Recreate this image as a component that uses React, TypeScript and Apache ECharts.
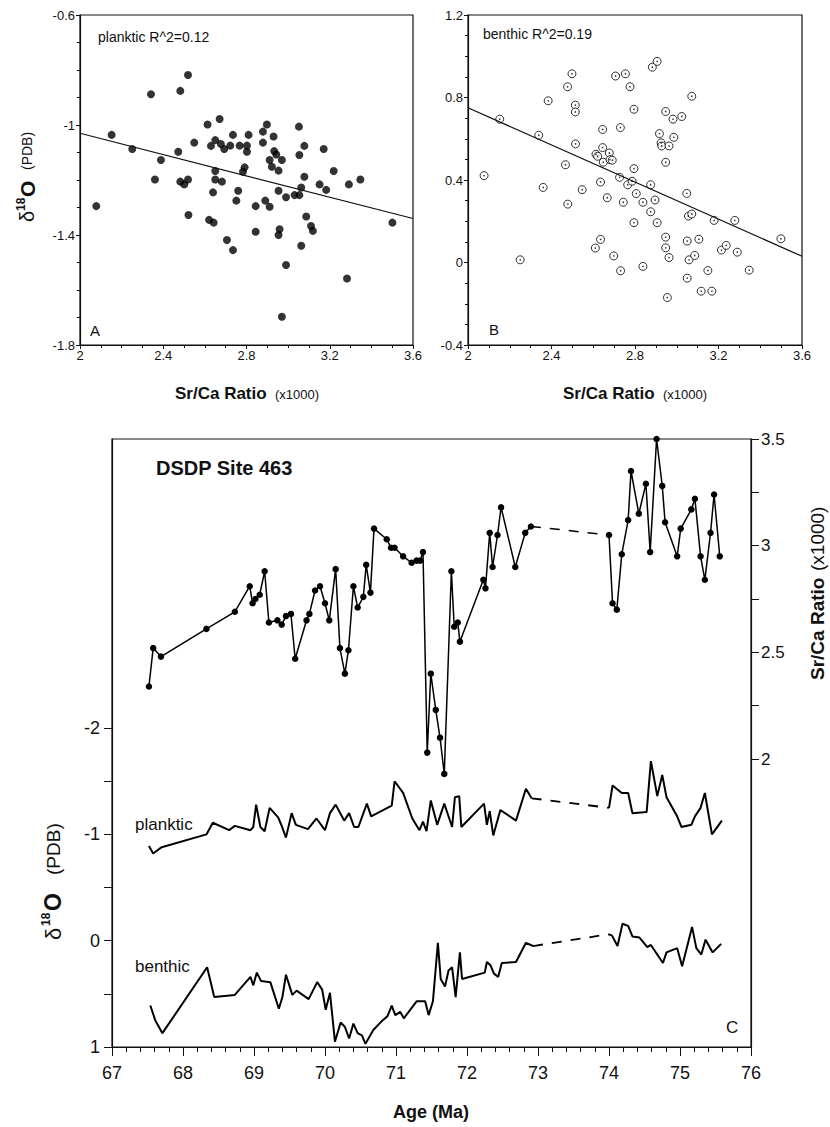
import React, { useEffect, useRef } from "react";
import * as echarts from "echarts";

const FONT = '"Liberation Sans", Arial, Helvetica, sans-serif';
const INK = "#111";

// Panel A: planktic d18O vs Sr/Ca
const planktonicScatter: number[][] = [
  [2.078, -1.295], [2.152, -1.036], [2.251, -1.087], [2.341, -0.888], [2.36, -1.198], [2.389, -1.127],
  [2.472, -1.097], [2.482, -0.876], [2.519, -0.818], [2.482, -1.206], [2.501, -1.216], [2.519, -1.198],
  [2.521, -1.327], [2.549, -1.064], [2.613, -0.998], [2.629, -1.076], [2.671, -0.978], [2.62, -1.345],
  [2.642, -1.355], [2.639, -1.245], [2.65, -1.198], [2.65, -1.167], [2.65, -1.055], [2.677, -1.069],
  [2.682, -1.206], [2.693, -1.087], [2.706, -1.418], [2.735, -1.455], [2.722, -1.075], [2.735, -1.036],
  [2.751, -1.275], [2.76, -1.239], [2.767, -1.075], [2.783, -1.17], [2.791, -1.154], [2.802, -1.075],
  [2.802, -1.097], [2.81, -1.036], [2.844, -1.295], [2.844, -1.388], [2.879, -1.064], [2.879, -1.024],
  [2.898, -0.998], [2.89, -1.275], [2.911, -1.297], [2.911, -1.127], [2.922, -1.152], [2.93, -1.042],
  [2.933, -1.095], [2.943, -1.107], [2.954, -1.166], [2.97, -1.127], [2.954, -1.239], [2.959, -1.379],
  [2.954, -1.4], [2.97, -1.697], [2.99, -1.509], [2.99, -1.263], [3.031, -1.255], [3.054, -1.255],
  [3.052, -1.006], [3.054, -1.109], [3.063, -1.227], [3.078, -1.076], [3.078, -1.188], [3.063, -1.439],
  [3.087, -1.333], [3.11, -1.367], [3.119, -1.385], [3.151, -1.216], [3.171, -1.087], [3.183, -1.236],
  [3.219, -1.167], [3.283, -1.558], [3.292, -1.216], [3.347, -1.198], [3.501, -1.355],
];
const planktonicFit: number[][] = [[2, -1.03], [3.6, -1.34]];

// Panel B: benthic d18O vs Sr/Ca
const benthicScatter: number[][] = [
  [2.077, 0.421], [2.152, 0.695], [2.25, 0.013], [2.339, 0.617], [2.36, 0.364], [2.384, 0.784],
  [2.467, 0.474], [2.477, 0.852], [2.478, 0.283], [2.498, 0.915], [2.514, 0.763], [2.514, 0.73],
  [2.515, 0.575], [2.547, 0.353], [2.61, 0.07], [2.613, 0.525], [2.621, 0.515], [2.635, 0.112],
  [2.635, 0.39], [2.645, 0.557], [2.645, 0.645], [2.648, 0.486], [2.667, 0.314], [2.677, 0.531],
  [2.68, 0.499], [2.691, 0.496], [2.698, 0.032], [2.707, 0.904], [2.726, 0.413], [2.73, 0.654],
  [2.731, -0.04], [2.744, 0.292], [2.754, 0.915], [2.765, 0.377], [2.776, 0.852], [2.786, 0.394],
  [2.795, 0.743], [2.795, 0.455], [2.795, 0.193], [2.806, 0.334], [2.838, -0.019], [2.838, 0.292],
  [2.875, 0.377], [2.875, 0.246], [2.883, 0.947], [2.896, 0.303], [2.906, 0.975], [2.906, 0.193],
  [2.917, 0.625], [2.925, 0.58], [2.928, 0.565], [2.947, 0.732], [2.947, 0.486], [2.947, 0.123],
  [2.947, 0.071], [2.955, -0.17], [2.963, 0.565], [2.963, 0.024], [2.982, 0.695], [2.986, 0.607],
  [3.024, 0.708], [3.048, 0.335], [3.05, 0.104], [3.05, -0.076], [3.056, 0.225], [3.059, 0.013],
  [3.072, 0.235], [3.072, 0.806], [3.086, 0.034], [3.106, 0.113], [3.117, -0.139], [3.149, -0.039],
  [3.168, -0.139], [3.179, 0.204], [3.214, 0.06], [3.237, 0.083], [3.278, 0.204], [3.29, 0.05],
  [3.347, -0.037], [3.499, 0.115],
];
const benthicFit: number[][] = [[2, 0.75], [3.6, 0.03]];

// Panel C: time series, DSDP Site 463
const srCaSeries: number[][] = [
  [67.52, 2.34], [67.58, 2.52], [67.69, 2.48], [68.33, 2.61], [68.73, 2.69], [68.94, 2.81], [68.98, 2.73],
  [69.02, 2.75], [69.08, 2.77], [69.15, 2.88], [69.21, 2.64], [69.33, 2.65], [69.39, 2.63], [69.45, 2.67],
  [69.52, 2.68], [69.58, 2.47], [69.74, 2.65], [69.78, 2.68], [69.86, 2.79], [69.93, 2.81], [70.0, 2.73],
  [70.06, 2.65], [70.15, 2.89], [70.21, 2.52], [70.28, 2.4], [70.33, 2.51], [70.4, 2.81], [70.46, 2.71],
  [70.54, 2.76], [70.58, 2.91], [70.64, 2.78], [70.69, 3.08], [70.87, 3.03], [70.93, 2.99], [70.98, 2.99],
  [71.1, 2.95], [71.22, 2.92], [71.29, 2.93], [71.34, 2.93], [71.38, 2.97], [71.44, 2.03], [71.49, 2.4],
  [71.56, 2.23], [71.62, 2.1], [71.68, 1.93], [71.78, 2.88], [71.82, 2.62], [71.87, 2.64], [71.9, 2.55],
  [72.23, 2.84], [72.26, 2.8], [72.32, 3.06], [72.36, 2.9], [72.43, 3.05], [72.48, 3.18], [72.68, 2.9],
  [72.82, 3.06], [72.9, 3.09],
];
const srCaLate: number[][] = [
  [74.0, 3.05], [74.05, 2.73], [74.11, 2.7], [74.18, 2.96], [74.27, 3.12], [74.31, 3.35], [74.42, 3.15],
  [74.52, 3.29], [74.58, 2.97], [74.67, 3.5], [74.75, 3.28], [74.79, 3.11], [74.96, 2.95], [75.01, 3.08],
  [75.16, 3.17], [75.21, 3.22], [75.29, 2.95], [75.35, 2.84], [75.43, 3.06], [75.48, 3.24], [75.56, 2.95],
];
const srCaGap: number[][] = [[72.9, 3.09], [74.0, 3.05]];

const planktonicSeries: number[][] = [
  [67.52, -0.89], [67.58, -0.82], [67.7, -0.88], [68.33, -1.0], [68.42, -1.11], [68.65, -1.04], [68.73, -1.08],
  [68.95, -1.04], [68.99, -1.07], [69.03, -1.28], [69.09, -1.07], [69.15, -1.03], [69.22, -1.25], [69.34, -1.16],
  [69.39, -1.08], [69.45, -0.97], [69.53, -1.2], [69.59, -1.09], [69.76, -1.05], [69.88, -1.15], [70.0, -1.04],
  [70.07, -1.2], [70.15, -1.28], [70.27, -1.13], [70.34, -1.2], [70.41, -1.07], [70.47, -1.07], [70.59, -1.29],
  [70.65, -1.17], [70.94, -1.27], [70.98, -1.5], [71.1, -1.39], [71.23, -1.15], [71.33, -1.04], [71.38, -1.12],
  [71.43, -1.03], [71.49, -1.32], [71.58, -1.09], [71.68, -1.29], [71.79, -1.07], [71.83, -1.35], [71.89, -1.36],
  [71.92, -1.07], [72.24, -1.29], [72.28, -1.09], [72.32, -1.22], [72.37, -0.99], [72.47, -1.23], [72.69, -1.13],
  [72.83, -1.43], [72.91, -1.34],
];
const planktonicLate: number[][] = [
  [74.0, -1.25], [74.05, -1.46], [74.18, -1.39], [74.27, -1.39], [74.33, -1.2], [74.53, -1.21], [74.59, -1.69],
  [74.68, -1.36], [74.75, -1.56], [74.81, -1.35], [74.96, -1.17], [75.02, -1.07], [75.16, -1.09], [75.21, -1.17],
  [75.29, -1.25], [75.35, -1.39], [75.45, -1.0], [75.59, -1.13],
];
const planktonicGap: number[][] = [[72.91, -1.34], [74.0, -1.25]];

const benthicSeries: number[][] = [
  [67.54, 0.61], [67.61, 0.75], [67.71, 0.87], [68.34, 0.25], [68.44, 0.53], [68.73, 0.51], [68.95, 0.34],
  [68.99, 0.42], [69.04, 0.3], [69.1, 0.38], [69.23, 0.39], [69.35, 0.64], [69.4, 0.53], [69.45, 0.32],
  [69.54, 0.51], [69.6, 0.47], [69.77, 0.55], [69.89, 0.39], [69.96, 0.46], [70.01, 0.65], [70.07, 0.49],
  [70.14, 0.95], [70.22, 0.77], [70.28, 0.81], [70.34, 0.92], [70.4, 0.78], [70.46, 0.87], [70.52, 0.89],
  [70.57, 0.97], [70.68, 0.84], [70.81, 0.75], [70.88, 0.71], [70.94, 0.61], [70.99, 0.7], [71.06, 0.67],
  [71.11, 0.73], [71.29, 0.57], [71.41, 0.57], [71.46, 0.7], [71.52, 0.57], [71.59, 0.02], [71.63, 0.36],
  [71.69, 0.43], [71.74, 0.28], [71.79, 0.25], [71.84, 0.53], [71.9, 0.11], [71.93, 0.36], [72.25, 0.3],
  [72.28, 0.2], [72.33, 0.23], [72.38, 0.31], [72.44, 0.34], [72.49, 0.21], [72.69, 0.2], [72.83, 0.02],
  [72.93, 0.05],
];
const benthicLate: number[][] = [
  [73.99, -0.06], [74.04, -0.05], [74.12, 0.05], [74.19, -0.16], [74.27, -0.14], [74.33, -0.04], [74.43, -0.03],
  [74.54, 0.06], [74.59, 0.04], [74.76, 0.21], [74.81, 0.11], [74.96, 0.07], [75.03, 0.24], [75.17, -0.13],
  [75.23, 0.07], [75.3, 0.13], [75.36, -0.01], [75.46, 0.11], [75.58, 0.03],
];
const benthicGap: number[][] = [[72.93, 0.05], [73.99, -0.06]];

// tick values
const leftTicksC = [-2, -1.5, -1, -0.5, 0, 0.5, 1];
const leftLabelsC = [-2, -1, 0, 1];
const rightTicksC = [2, 2.25, 2.5, 2.75, 3, 3.25, 3.5];
const rightLabelsC = [2, 2.5, 3, 3.5];

const fmt1 = (v: number) => String(+v.toFixed(2));

function smallX(gridIndex: number) {
  return {
    gridIndex, type: "value", min: 2, max: 3.6, interval: 0.4,
    axisLine: { onZero: false, lineStyle: { color: INK, width: 1.2 } },
    axisTick: { length: 4, lineStyle: { color: INK } },
    minorTick: { show: true, splitNumber: 4, length: 3, lineStyle: { color: INK } },
    axisLabel: { fontSize: 13, color: INK, margin: 4, fontFamily: FONT, formatter: fmt1 },
    splitLine: { show: false },
  };
}
function smallY(gridIndex: number, min: number, max: number) {
  return {
    gridIndex, type: "value", min, max, interval: 0.4,
    axisLine: { onZero: false, lineStyle: { color: INK, width: 1.2 } },
    axisTick: { length: 4, lineStyle: { color: INK } },
    minorTick: { show: true, splitNumber: 4, length: 3, lineStyle: { color: INK } },
    axisLabel: { fontSize: 13, color: INK, margin: 5, fontFamily: FONT, formatter: fmt1 },
    splitLine: { show: false },
  };
}

function txt(text: string, x: number, y: number, font: string, align = "left", vAlign = "middle") {
  return {
    type: "text", x, y,
    style: { text, font, fill: INK, align, verticalAlign: vAlign, textAlign: align, textVerticalAlign: vAlign },
  };
}

function deltaTitle(x: number, y: number, s: { d: number; sup: number; o: number; pdb: number; supX: number; oX: number; pdbX: number; supY: number }) {
  return {
    type: "group", x, y, rotation: Math.PI / 2,
    children: [
      txt("δ", 0, 0, `${s.d}px ${FONT}`),
      txt("18", s.supX, s.supY, `bold ${s.sup}px ${FONT}`),
      txt("O", s.oX, 0, `bold ${s.o}px ${FONT}`),
      txt("(PDB)", s.pdbX, 0, `${s.pdb}px ${FONT}`),
    ],
  };
}

const option: any = {
  animation: false,
  backgroundColor: "#fff",
  grid: [
    { left: 80, top: 15, width: 333, height: 330, show: true, borderColor: INK, borderWidth: 1.2 },
    { left: 468, top: 15, width: 334, height: 330, show: true, borderColor: INK, borderWidth: 1.2 },
    { left: 112, top: 439, width: 639, height: 608, show: true, borderColor: INK, borderWidth: 1.2 },
  ],
  xAxis: [
    smallX(0),
    smallX(1),
    {
      gridIndex: 2, type: "value", min: 67, max: 76, interval: 1,
      axisLine: { onZero: false, lineStyle: { color: INK, width: 1.2 } },
      axisTick: { length: 9, lineStyle: { color: INK } },
      minorTick: { show: true, splitNumber: 5, length: 5, lineStyle: { color: INK } },
      axisLabel: { fontSize: 18, color: INK, margin: 17, fontFamily: FONT },
      splitLine: { show: false },
    },
  ],
  yAxis: [
    smallY(0, -1.8, -0.6),
    smallY(1, -0.4, 1.2),
    {
      gridIndex: 2, type: "value", min: -4.72, max: 1, inverse: true, position: "left",
      axisLine: { onZero: false, lineStyle: { color: INK, width: 1.2 } },
      axisTick: { length: 8, lineStyle: { color: INK }, customValues: leftTicksC },
      axisLabel: { fontSize: 18, color: INK, margin: 12, fontFamily: FONT, customValues: leftLabelsC },
      splitLine: { show: false },
    },
    {
      gridIndex: 2, type: "value", min: 0.65, max: 3.5, position: "right",
      axisLine: { onZero: false, lineStyle: { color: INK, width: 1.2 } },
      axisTick: { length: 8, lineStyle: { color: INK }, customValues: rightTicksC },
      axisLabel: { fontSize: 17, color: INK, margin: 10, fontFamily: FONT, customValues: rightLabelsC },
      splitLine: { show: false },
    },
  ],
  series: [
    {
      type: "scatter", xAxisIndex: 0, yAxisIndex: 0, data: planktonicScatter,
      symbol: "circle", symbolSize: 8, itemStyle: { color: "#000" }, silent: true,
    },
    {
      type: "line", xAxisIndex: 0, yAxisIndex: 0, data: planktonicFit, symbol: "none",
      lineStyle: { color: INK, width: 1.2 },
    },
    {
      type: "scatter", xAxisIndex: 1, yAxisIndex: 1, data: benthicScatter,
      symbol: "circle", symbolSize: 8, itemStyle: { color: "#fff", borderColor: "#000", borderWidth: 1 },
    },
    {
      type: "scatter", xAxisIndex: 1, yAxisIndex: 1, data: benthicScatter,
      symbol: "circle", symbolSize: 1.6, itemStyle: { color: "#000" },
    },
    {
      type: "line", xAxisIndex: 1, yAxisIndex: 1, data: benthicFit, symbol: "none",
      lineStyle: { color: INK, width: 1.2 },
    },
    {
      type: "line", xAxisIndex: 2, yAxisIndex: 3, data: srCaSeries, symbol: "circle", symbolSize: 6.5,
      itemStyle: { color: "#000" }, lineStyle: { color: "#000", width: 1.5 }, clip: false,
    },
    {
      type: "line", xAxisIndex: 2, yAxisIndex: 3, data: srCaLate, symbol: "circle", symbolSize: 6.5,
      itemStyle: { color: "#000" }, lineStyle: { color: "#000", width: 1.5 }, clip: false,
    },
    {
      type: "line", xAxisIndex: 2, yAxisIndex: 3, data: srCaGap, symbol: "none",
      lineStyle: { color: "#000", width: 1.5, type: [10, 9] },
    },
    {
      type: "line", xAxisIndex: 2, yAxisIndex: 2, data: planktonicSeries, symbol: "none",
      lineStyle: { color: "#000", width: 2 },
    },
    {
      type: "line", xAxisIndex: 2, yAxisIndex: 2, data: planktonicLate, symbol: "none",
      lineStyle: { color: "#000", width: 2 },
    },
    {
      type: "line", xAxisIndex: 2, yAxisIndex: 2, data: planktonicGap, symbol: "none",
      lineStyle: { color: "#000", width: 1.8, type: [10, 9] },
    },
    {
      type: "line", xAxisIndex: 2, yAxisIndex: 2, data: benthicSeries, symbol: "none",
      lineStyle: { color: "#000", width: 2 },
    },
    {
      type: "line", xAxisIndex: 2, yAxisIndex: 2, data: benthicLate, symbol: "none",
      lineStyle: { color: "#000", width: 2 },
    },
    {
      type: "line", xAxisIndex: 2, yAxisIndex: 2, data: benthicGap, symbol: "none",
      lineStyle: { color: "#000", width: 1.8, type: [10, 9] },
    },
  ],
  graphic: [
    txt("planktic R^2=0.12", 98, 37, `14px ${FONT}`),
    txt("benthic R^2=0.19", 483, 34, `14px ${FONT}`),
    txt("A", 90, 330, `15px ${FONT}`),
    txt("B", 489, 329, `15px ${FONT}`),
    txt("Sr/Ca Ratio", 175, 393, `bold 17px ${FONT}`),
    txt("(x1000)", 275, 394, `13px ${FONT}`),
    txt("Sr/Ca Ratio", 563, 393, `bold 17px ${FONT}`),
    txt("(x1000)", 663, 394, `13px ${FONT}`),
    deltaTitle(27, 222, { d: 20, sup: 12, o: 21, pdb: 14, supX: 11, supY: -6, oX: 25, pdbX: 52 }),
    txt("DSDP Site 463", 156, 468, `bold 20px ${FONT}`),
    txt("planktic", 135, 824, `17px ${FONT}`),
    txt("benthic", 135, 966, `17px ${FONT}`),
    txt("C", 726, 1027, `17px ${FONT}`),
    txt("Age (Ma)", 431, 1112, `bold 18px ${FONT}`, "center"),
    deltaTitle(53, 940, { d: 22, sup: 12, o: 23, pdb: 19, supX: 14, supY: -7, oX: 29, pdbX: 65 }),
    {
      type: "group", x: 817, y: 680, rotation: Math.PI / 2,
      children: [
        txt("Sr/Ca Ratio", 0, 0, `bold 19px ${FONT}`),
        txt("(x1000)", 109, 0, `19px ${FONT}`),
      ],
    },
  ],
};

export default function App() {
  const ref = useRef<HTMLDivElement>(null);
  useEffect(() => {
    if (!ref.current) return;
    const chart = echarts.init(ref.current, undefined, { renderer: "svg" });
    chart.setOption(option);
    return () => chart.dispose();
  }, []);
  return (
    <div
      ref={ref}
      style={{ position: "absolute", left: 0, top: 0, width: 830, height: 1127, background: "#fff" }}
    />
  );
}
